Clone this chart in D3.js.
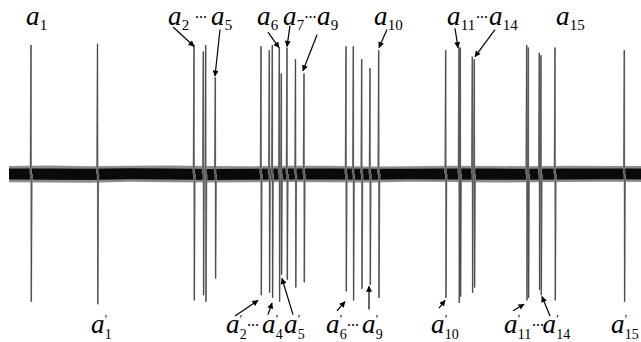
<!DOCTYPE html>
<html><head><meta charset="utf-8">
<script src="https://cdn.jsdelivr.net/npm/d3@7"></script>
<style>html,body{margin:0;padding:0;background:#fff;}svg{display:block;} .lab{font-family:"Liberation Serif","Times New Roman",serif;}</style>
</head><body>
<svg id="c" width="641" height="342"></svg>
<script>
// ---- data ----
// spike times (ms, arbitrary), positive peak and negative trough amplitudes (normalised)
const spikeT    = [22, 88.5, 185, 194.3, 196.7, 206.3, 252, 260.3, 263.3, 270.3, 272.3, 278, 286.5, 295,
                   337, 344.3, 352.7, 361, 369.7, 436.7, 450, 451.3, 463.3, 465.3, 517.7, 519.3, 530.3, 532, 546, 615.3];
const spikeUp   = [1.00, 1.01, 1.00, 0.95, 1.00, 0.75, 0.99, 0.96, 1.00, 0.98, 0.78, 0.98, 0.89, 0.78,
                   0.99, 0.99, 0.89, 0.82, 0.96, 0.96, 0.98, 0.98, 0.91, 0.89, 1.00, 0.98, 0.94, 0.92, 0.98, 0.96];
const spikeDown = [-0.99, -1.01, -0.98, -0.94, -0.99, -0.81, -0.94, -0.92, -0.96, -0.99, -0.78, -0.82, -0.88, -0.84,
                   -0.91, -0.98, -0.89, -0.86, -0.96, -0.96, -1.00, -0.95, -0.92, -0.88, -0.98, -0.96, -0.90, -0.94, -0.98, -0.99];
// background noise envelope (outer fuzz and dense core)
const noiseT     = [0, 40, 80, 120, 160, 200, 240, 280, 320, 360, 400, 440, 480, 520, 560, 600, 632];
const noiseHiOut = [0.062, 0.066, 0.060, 0.064, 0.066, 0.062, 0.060, 0.064, 0.064, 0.058, 0.060, 0.064, 0.062, 0.060, 0.064, 0.062, 0.062];
const noiseLoOut = [-0.064, -0.066, -0.068, -0.060, -0.064, -0.066, -0.064, -0.062, -0.064, -0.066, -0.060, -0.062, -0.066, -0.064, -0.062, -0.060, -0.062];
const noiseHiIn  = [0.042, 0.043, 0.041, 0.044, 0.043, 0.039, 0.041, 0.042, 0.043, 0.040, 0.041, 0.043, 0.042, 0.041, 0.043, 0.042, 0.042];
const noiseLoIn  = [-0.043, -0.045, -0.047, -0.041, -0.043, -0.046, -0.044, -0.042, -0.043, -0.045, -0.041, -0.043, -0.045, -0.044, -0.042, -0.041, -0.043];
// labels
const topLabels = [
  {t:17, sub:"1"}, {t:159, sub:"2"}, {t:202, sub:"5"}, {t:248, sub:"6"}, {t:274, sub:"7"},
  {t:308, sub:"9"}, {t:365, sub:"10"}, {t:438, sub:"11"}, {t:480, sub:"14"}, {t:547, sub:"15"}
];
const topDots = [186, 295.5, 467];
const botLabels = [
  {t:82, sub:"1"}, {t:217, sub:"2"}, {t:253, sub:"4"}, {t:275, sub:"5"}, {t:317, sub:"6"},
  {t:353, sub:"9"}, {t:422, sub:"10"}, {t:495, sub:"11"}, {t:533.5, sub:"14"}, {t:602, sub:"15"}
];
const botDots = [238, 338, 523];
const topBase = 1.155, botBase = -1.233;
// arrows [t0, a0, t1, a1]
const arrows = [
  [164, 1.14, 185, 0.99], [211, 1.12, 206, 0.76], [259, 1.10, 270, 0.98], [281, 1.15, 278, 0.99],
  [308, 1.08, 294, 0.80], [378, 1.12, 370, 0.98], [446, 1.13, 449, 0.98], [486, 1.12, 466, 0.91],
  [226, -1.10, 249, -0.98], [259, -1.09, 263, -1.00], [284, -1.09, 273, -0.81], [328, -1.06, 336, -0.99],
  [360, -1.05, 360, -0.87], [430, -1.04, 436, -0.98], [504, -1.06, 515, -1.01], [541, -1.10, 533, -0.95]
];

// ---- drawing ----
const svg = d3.select("#c");
const x = d3.scaleLinear().domain([0, 632]).range([9, 641]);
const y = d3.scaleLinear().domain([-1, 1]).range([303, 45]);

const noise = noiseT.map((t,i)=>({t, ho:noiseHiOut[i], lo:noiseLoOut[i], hi:noiseHiIn[i], li:noiseLoIn[i]}));
svg.append("path").datum(noise)
  .attr("d", d3.area().x(d=>x(d.t)).y0(d=>y(d.lo)).y1(d=>y(d.ho)))
  .attr("fill", "#8c8c8c");
svg.append("path").datum(noise)
  .attr("d", d3.area().x(d=>x(d.t)).y0(d=>y(d.li)).y1(d=>y(d.hi)))
  .attr("fill", "#0a0a0a");

const spikes = spikeT.map((t,i)=>({t, up:spikeUp[i], dn:spikeDown[i]}));
const spikeLine = d => d3.line()([[x(d.t-0.6), y(0)], [x(d.t), y(d.up)], [x(d.t+0.3), y(d.dn)], [x(d.t+0.9), y(0)]]);
svg.append("g").selectAll("path").data(spikes).join("path")
  .attr("d", spikeLine).attr("fill","none").attr("stroke","#a8a8a8").attr("stroke-width",1.6);
svg.append("g").selectAll("path").data(spikes).join("path")
  .attr("d", spikeLine).attr("fill","none").attr("stroke","#333").attr("stroke-width",0.6);

// arrow marker
svg.append("defs").append("marker").attr("id","ah").attr("viewBox","0 0 10 10")
  .attr("refX",9).attr("refY",5).attr("markerWidth",7).attr("markerHeight",6)
  .attr("markerUnits","userSpaceOnUse").attr("orient","auto")
  .append("path").attr("d","M0,0L10,5L0,10z").attr("fill","#000");
svg.append("g").selectAll("line").data(arrows).join("line")
  .attr("x1",d=>x(d[0])).attr("y1",d=>y(d[1])).attr("x2",d=>x(d[2])).attr("y2",d=>y(d[3]))
  .attr("stroke","#000").attr("stroke-width",1.2).attr("marker-end","url(#ah)");

function drawLabels(list, base, prime) {
  const g = svg.append("g").attr("class","lab");
  list.forEach(d => {
    const px = x(d.t), py = y(base);
    const t = g.append("text").attr("x",px).attr("y",py);
    t.append("tspan").attr("font-size",27).attr("font-style","italic").text("a");
    if (prime) {
      t.append("tspan").attr("font-size",12).attr("x",px+13.8).attr("y",py-10).text("\u2032");
      t.append("tspan").attr("font-size",14).attr("x",px+13.8).attr("y",py+6).text(d.sub);
    } else {
      t.append("tspan").attr("font-size",15).attr("x",px+13.8).attr("y",py+5).text(d.sub);
    }
  });
}
function drawDots(list, base) {
  svg.append("g").attr("class","lab").selectAll("text").data(list).join("text")
    .attr("x",d=>x(d)).attr("y",y(base)-4)
    .attr("font-size",12).attr("font-weight","bold").text("\u00b7\u00b7\u00b7");
}
drawLabels(topLabels, topBase, false);
drawLabels(botLabels, botBase, true);
drawDots(topDots, topBase);
drawDots(botDots, botBase);
</script>
</body></html>
